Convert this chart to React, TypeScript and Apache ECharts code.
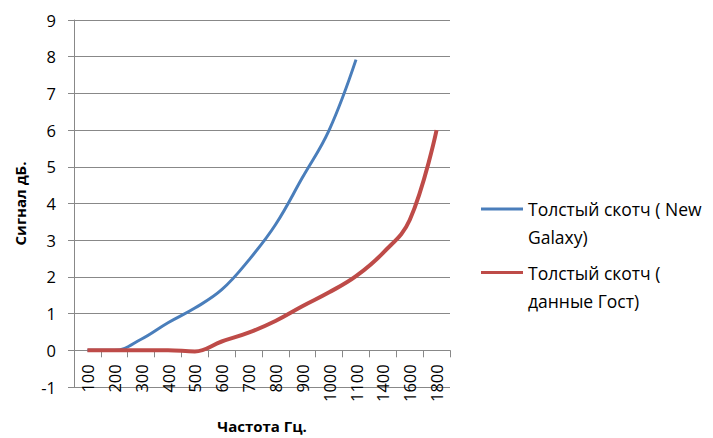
import React, { useEffect, useRef } from "react";
import * as echarts from "echarts";

const categories = ["100", "200", "300", "400", "500", "600", "700", "800", "900", "1000", "1100", "1400", "1600", "1800"];
const seriesNames = ["Толстый скотч ( New Galaxy)", "Толстый скотч ( данные Гост)"];
const legendLabels = ["Толстый скотч ( New\nGalaxy)", "Толстый скотч (\nданные Гост)"];
const blueValues = [0, 0, 0.3, 0.75, 1.15, 1.65, 2.45, 3.42, 4.7, 6.0, 7.92];
const redValues = [0, 0, 0, 0, -0.03, 0.24, 0.48, 0.8, 1.2, 1.58, 2.02, 2.65, 3.55, 6.0];
const yTicks = { min: -1, max: 9, interval: 1 };

const FONT = "'Open Sans', 'Noto Sans', sans-serif";
const GRID = "#888888";
const BLUE = "#4a7ebb";
const RED = "#be4b48";

const GRID_TOP = 20;
const GRID_BOTTOM = 51;
const CHART_H = 438;
const LEGEND_LINE_H = 28;

export default function App() {
  const ref = useRef<HTMLDivElement>(null);
  useEffect(() => {
    if (!ref.current) return;
    const chart = echarts.init(ref.current, null, { renderer: "svg" });
    // leading empty line so that the icon sits level with the first text line
    const legendText = (name: string) => "\n" + legendLabels[seriesNames.indexOf(name)];
    // x axis sits on the y = 0 line: shift it up by the distance between the bottom (min) and zero
    const plotH = CHART_H - GRID_TOP - GRID_BOTTOM;
    const zeroOffset = -(plotH * (0 - yTicks.min)) / (yTicks.max - yTicks.min);
    const legendCommon = {
      orient: "vertical",
      left: 481,
      padding: 0,
      itemWidth: 42,
      itemHeight: 3,
      icon: "rect",
      formatter: legendText,
      textStyle: {
        fontFamily: FONT,
        fontSize: 17.5,
        color: "#000",
        lineHeight: LEGEND_LINE_H,
      },
    };
    chart.setOption({
      animation: false,
      backgroundColor: "#fff",
      textStyle: { fontFamily: FONT },
      grid: { left: 74, right: 263, top: GRID_TOP, bottom: GRID_BOTTOM, containLabel: false, outerBoundsMode: "none" },
      legend: [
        { ...legendCommon, top: 210.5 - 1.5 * LEGEND_LINE_H - 1.5, data: [seriesNames[0]] },
        { ...legendCommon, top: 274 - 1.5 * LEGEND_LINE_H - 1.5, data: [seriesNames[1]] },
      ],
      xAxis: {
        type: "category",
        data: categories,
        boundaryGap: true,
        position: "bottom",
        offset: zeroOffset,
        name: "Частота Гц.",
        nameLocation: "middle",
        nameGap: 68,
        nameTextStyle: { fontFamily: FONT, fontSize: 15, fontWeight: "bold", color: "#000" },
        axisLine: { onZero: false, lineStyle: { color: GRID, width: 1 } },
        axisTick: { show: true, length: 7, lineStyle: { color: GRID } },
        axisLabel: { rotate: 90, margin: 14, fontSize: 16.5, color: "#000", fontFamily: FONT, interval: 0 },
        splitLine: { show: false },
      },
      yAxis: {
        type: "value",
        min: yTicks.min,
        max: yTicks.max,
        interval: yTicks.interval,
        name: "Сигнал дБ.",
        nameLocation: "middle",
        nameGap: 47,
        nameTextStyle: { fontFamily: FONT, fontSize: 15, fontWeight: "bold", color: "#000" },
        axisLine: { show: true, lineStyle: { color: GRID, width: 1 } },
        axisTick: { show: true, length: 6, lineStyle: { color: GRID } },
        axisLabel: { margin: 18, fontSize: 16.5, color: "#000", fontFamily: FONT },
        splitLine: { show: true, lineStyle: { color: GRID, width: 1 } },
      },
      series: [
        {
          name: seriesNames[0],
          type: "line",
          data: blueValues,
          smooth: 0.4,
          showSymbol: false,
          symbol: "none",
          lineStyle: { color: BLUE, width: 3 },
          itemStyle: { color: BLUE },
          z: 3,
        },
        {
          name: seriesNames[1],
          type: "line",
          data: redValues,
          smooth: 0.4,
          showSymbol: false,
          symbol: "none",
          lineStyle: { color: RED, width: 4 },
          itemStyle: { color: RED },
          z: 4,
        },
      ],
    });
    return () => chart.dispose();
  }, []);
  return (
    <div
      ref={ref}
      style={{ position: "absolute", left: 0, top: 0, width: 713, height: 438, background: "#fff" }}
    />
  );
}
